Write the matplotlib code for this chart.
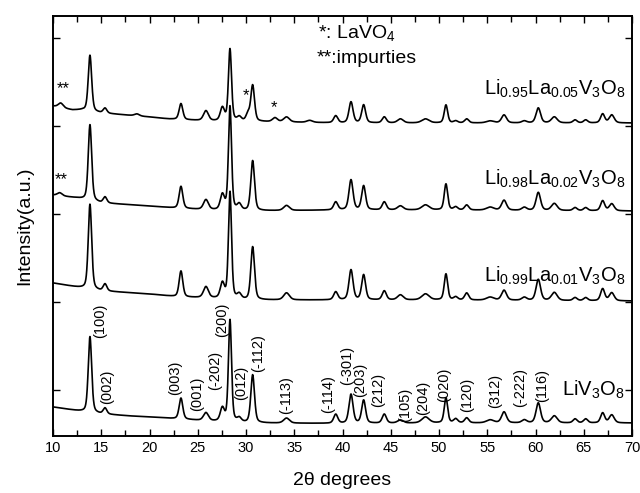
import numpy as np
import matplotlib
matplotlib.use("Agg")
import matplotlib.pyplot as plt
from matplotlib.ticker import MultipleLocator, FixedLocator

plt.rcParams['font.family'] = ['Liberation Sans', 'DejaVu Sans']
plt.rcParams['mathtext.fontset'] = 'custom'
plt.rcParams['mathtext.rm'] = 'Liberation Sans'
plt.rcParams['mathtext.it'] = 'Liberation Sans:italic'

# ---------------- data ----------------
peak_pos = [13.83, 15.39, 23.26, 25.85, 27.55, 28.34, 29.3, 30.69, 34.2, 39.3,
            40.88, 42.19, 44.33, 46.0, 48.6, 50.72, 51.73, 52.87, 55.3, 56.74,
            58.84, 60.29, 61.95, 64.1, 65.2, 66.96, 67.9]
peak_fwhm = [0.42, 0.45, 0.45, 0.6, 0.5, 0.38, 0.5, 0.45, 0.7, 0.5,
             0.5, 0.48, 0.5, 0.7, 0.9, 0.42, 0.5, 0.5, 0.9, 0.6,
             0.6, 0.55, 0.7, 0.5, 0.5, 0.5, 0.6]

h_LiV3O8 = [76, 6, 21, 8, 13, 102, 4, 48, 5, 9, 29, 23, 9, 3, 6, 25, 4, 5, 3, 11, 3, 20, 7, 4, 4, 10, 8]
h_La001 = [85, 7, 26, 11, 15, 107, 5, 53, 7, 8, 30, 25, 9, 5, 6, 26, 3, 7, 3, 10, 3, 21, 8, 3, 3, 12, 8]
h_La002 = [76, 6, 22, 10, 15, 104, 6, 50, 5, 8, 30, 24, 8, 4, 5, 26, 3, 5, 3, 10, 3, 18, 7, 3, 3, 10, 7]
h_La005 = [56, 5, 16, 10, 13, 72, 4, 36, 5, 7, 21, 18, 6, 4, 4, 18, 2, 4, 2, 8, 2, 15, 6, 3, 3, 9, 8]

# impurity / LaVO4 peaks: position, height, fwhm
extra_La002_pos, extra_La002_h, extra_La002_w = [10.7], [3], [0.6]
extra_La005_pos = [10.8, 18.7, 30.2, 33.0, 36.6]
extra_La005_h = [4.5, 2, 7, 4, 2]
extra_La005_w = [0.6, 0.6, 0.45, 0.6, 0.7]

# baselines (2theta, offset intensity)
base_x_LiV3O8 = [10, 12, 13.3, 15, 18, 20, 23, 26, 30, 40, 50, 60, 70]
base_y_LiV3O8 = [29, 26, 24, 22, 20, 19, 17, 15, 13, 12.5, 13, 13, 13]
base_x_La001 = [10, 13, 15, 20, 23, 26, 30, 40, 50, 70]
base_y_La001 = [153, 148, 145, 142, 139, 138, 136, 136, 136, 135]
base_x_La002 = [10, 12.5, 15, 20, 22.5, 26, 30, 40, 50, 70]
base_y_La002 = [241, 238, 233, 230, 228, 226, 225, 226, 226, 225]
base_x_La005 = [10, 12, 13, 15, 20, 22, 26, 30, 40, 50, 70]
base_y_La005 = [330, 326, 326, 323, 319, 317, 315, 314.5, 313, 313, 313]

hkl_labels = ['(100)', '(002)', '(003)', '(001)', '(-202)', '(200)', '(012)', '(-112)',
              '(-113)', '(-114)', '(-301)', '(203)', '(212)', '(105)', '(204)', '(020)',
              '(120)', '(312)', '(-222)', '(116)']
hkl_x = [14.87, 15.63, 22.64, 24.89, 26.79, 27.48, 29.45, 31.28, 34.2, 38.46, 40.5,
         41.85, 43.65, 46.48, 48.38, 50.52, 52.87, 55.8, 58.4, 60.64]
hkl_y = [98, 32, 41, 25, 46, 99, 36, 64, 22, 23, 51, 39, 29, 14, 21, 34, 24, 28, 29, 34]

sample_labels = [r'LiV$_{\mathregular{3}}$O$_{\mathregular{8}}$',
                 r'Li$_{\mathregular{0.99}}$La$_{\mathregular{0.01}}$V$_{\mathregular{3}}$O$_{\mathregular{8}}$',
                 r'Li$_{\mathregular{0.98}}$La$_{\mathregular{0.02}}$V$_{\mathregular{3}}$O$_{\mathregular{8}}$',
                 r'Li$_{\mathregular{0.95}}$La$_{\mathregular{0.05}}$V$_{\mathregular{3}}$O$_{\mathregular{8}}$']
sample_label_y = [40, 154, 251, 341]


def pattern(x, pos, h, w, bx, by):
    y = np.interp(x, bx, by)
    for p, a, fw in zip(pos, h, w):
        d = (x - p) / fw
        g = np.exp(-4 * np.log(2) * d ** 2)
        l = 1.0 / (1 + 4 * d ** 2)
        y = y + a * (0.6 * g + 0.4 * l)
    return y


x = np.linspace(10, 70, 4001)
y1 = pattern(x, peak_pos, h_LiV3O8, peak_fwhm, base_x_LiV3O8, base_y_LiV3O8)
y2 = pattern(x, peak_pos, h_La001, peak_fwhm, base_x_La001, base_y_La001)
y3 = pattern(x, peak_pos + extra_La002_pos, h_La002 + extra_La002_h,
             peak_fwhm + extra_La002_w, base_x_La002, base_y_La002)
y4 = pattern(x, peak_pos + extra_La005_pos, h_La005 + extra_La005_h,
             peak_fwhm + extra_La005_w, base_x_La005, base_y_La005)

fig = plt.figure(figsize=(6.4, 4.93), dpi=100)
ax = fig.add_axes([53 / 640, 57 / 493, 579 / 640, 420 / 493])

for yy in (y1, y2, y3, y4):
    ax.plot(x, yy, color='black', lw=1.2)

ax.set_xlim(10, 70)
ax.set_ylim(0, 420)

ax.xaxis.set_major_locator(MultipleLocator(5))
ax.xaxis.set_minor_locator(MultipleLocator(2.5))
ax.yaxis.set_major_locator(FixedLocator([46, 134, 222, 310, 398]))
ax.tick_params(axis='both', which='both', direction='in', top=True, right=True,
               width=1.0, labelsize=10.5)
ax.tick_params(axis='both', which='major', length=5)
ax.tick_params(axis='both', which='minor', length=4)
ax.tick_params(axis='y', labelleft=False)
for s in ax.spines.values():
    s.set_linewidth(1.4)

ax.set_xlabel('2θ degrees', fontsize=14, labelpad=12)
ax.set_ylabel('Intensity(a.u.)', fontsize=14, labelpad=14)

for lab, xx, yy in zip(hkl_labels, hkl_x, hkl_y):
    ax.text(xx, yy, lab, rotation=90, ha='center', va='bottom', fontsize=10.5)

for lab, yy in zip(sample_labels, sample_label_y):
    ax.text(69.3, yy, lab, ha='right', va='baseline', fontsize=14.5)

ax.text(37.5, 397.7, r'*: LaVO$_{\mathregular{4}}$', ha='left', va='baseline', fontsize=14)
ax.text(37.3, 373, '**:impurties', ha='left', va='baseline', fontsize=14)

ax.text(10.4, 347, '**', ha='left', va='center', fontsize=12)
ax.text(10.2, 256, '**', ha='left', va='center', fontsize=12)
ax.text(29.97, 340, '*', ha='center', va='center', fontsize=12)
ax.text(32.9, 328.7, '*', ha='center', va='center', fontsize=12)

fig.savefig('out.png', dpi=100)
